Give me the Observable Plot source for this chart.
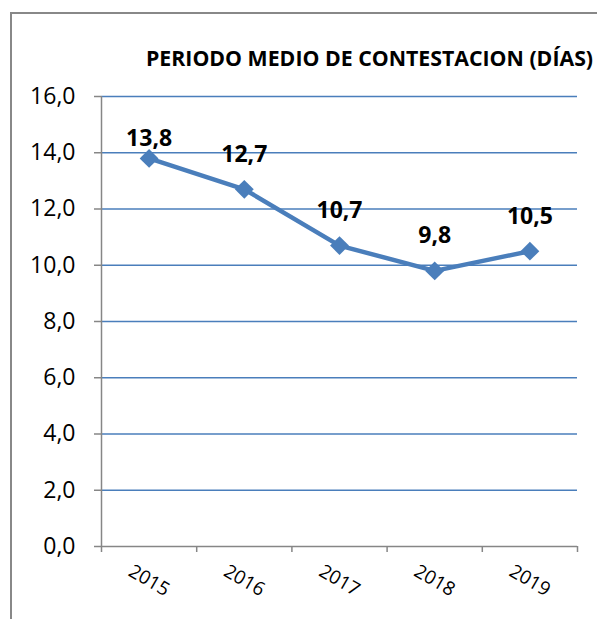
<!DOCTYPE html>
<html>
<head>
<meta charset="utf-8">
<script src="https://cdn.jsdelivr.net/npm/d3@7"></script>
<script src="https://cdn.jsdelivr.net/npm/@observablehq/plot@0.6"></script>
<style>
  html, body { margin: 0; padding: 0; background: #fff; }
  #wrap { position: relative; width: 597px; height: 619px; overflow: hidden; font-family: "Open Sans", sans-serif; }
  #frame { position: absolute; left: 10px; top: 12px; width: 700px; height: 700px; border: 2px solid #888; box-sizing: border-box; }
  #title { position: absolute; top: 43px; left: 146px; white-space: nowrap; font-weight: bold; font-size: 21.3px; line-height: 30px; color: #000; }
  #chart { position: absolute; left: 0; top: 70px; }
</style>
</head>
<body>
<div id="wrap">
  <div id="frame"></div>
  <div id="title">PERIODO MEDIO DE CONTESTACION (DÍAS)</div>
  <div id="chart"></div>
</div>
<script>
const years = ["2015", "2016", "2017", "2018", "2019"];
const values = [13.8, 12.7, 10.7, 9.8, 10.5];
const yTicks = [0, 2, 4, 6, 8, 10, 12, 14, 16];

const data = years.map((y, i) => ({year: y, i, value: values[i]}));
const fmt = v => v.toFixed(1).replace(".", ",");
const bounds = d3.range(years.length + 1).map(k => k - 0.5);
const blue = "#4A7EBB";
const gray = "#868686";

const plot = Plot.plot({
  width: 597,
  height: 549,
  marginLeft: 101,
  marginRight: 20,
  marginTop: 26,
  marginBottom: 73,
  style: {fontFamily: "Open Sans, sans-serif", background: "transparent", overflow: "visible"},
  x: {type: "linear", domain: [-0.5, years.length - 0.5], axis: null},
  y: {domain: [0, 16], axis: null},
  marks: [
    // gridlines
    Plot.ruleY(yTicks.filter(t => t > 0), {x1: -0.5, x2: years.length - 0.5, stroke: blue, strokeWidth: 1.5}),
    // y axis line & ticks
    Plot.ruleX([-0.5], {y1: 0, y2: 16, stroke: gray, strokeWidth: 1.5}),
    Plot.ruleY(yTicks, {x1: -0.5, x2: -0.5, insetLeft: -7, stroke: gray, strokeWidth: 1.5}),
    Plot.text(yTicks, {x: -0.5, y: d => d, text: fmt, dx: -26, textAnchor: "end", fontSize: 23, fill: "#000"}),
    // x axis line & ticks
    Plot.ruleY([0], {x1: -0.5, x2: years.length - 0.5, stroke: gray, strokeWidth: 1.5}),
    Plot.ruleX(bounds, {y1: 0, y2: 0, insetBottom: -6, stroke: gray, strokeWidth: 1.5}),
    Plot.text(data, {x: "i", y: 0, text: "year", dy: 34, rotate: 30, fontSize: 19, fill: "#000"}),
    // series
    Plot.line(data, {x: "i", y: "value", stroke: blue, strokeWidth: 4.5}),
    Plot.dot(data, {x: "i", y: "value", symbol: "diamond2", r: 8.5, fill: blue, stroke: null}),
    Plot.text(data.filter(d => d.i === 0), {x: "i", y: "value", text: d => fmt(d.value), dy: -20, fontSize: 23, fontWeight: "bold", fill: "#000"}),
    Plot.text(data.filter(d => d.i > 0), {x: "i", y: "value", text: d => fmt(d.value), dy: -35, fontSize: 23, fontWeight: "bold", fill: "#000"})
  ]
});
document.getElementById("chart").appendChild(plot);
</script>
</body>
</html>
